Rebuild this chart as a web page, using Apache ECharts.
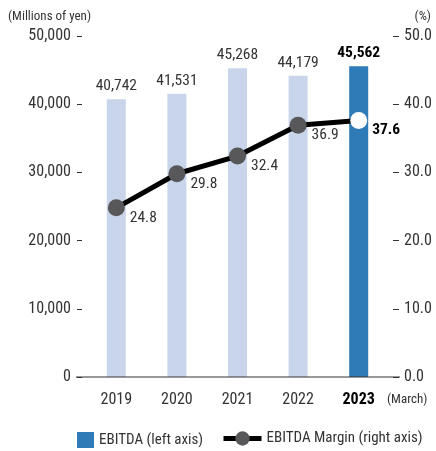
<!DOCTYPE html>
<html>
<head>
<meta charset="utf-8">
<script src="https://cdn.jsdelivr.net/npm/echarts@6/dist/echarts.min.js"></script>
<style>
  html, body { margin: 0; padding: 0; background: #fff; }
  #chart { width: 436px; height: 451px; }
</style>
</head>
<body>
<div id="chart"></div>
<script>
// Fiscal years (ending March)
const years = ['2019', '2020', '2021', '2022', '2023'];
// EBITDA, millions of yen (left axis)
const ebitda = [40742, 41531, 45268, 44179, 45562];
// EBITDA margin, % (right axis)
const margin = [24.8, 29.8, 32.4, 36.9, 37.6];
// Axis ranges
const leftAxis = { min: 0, max: 50000, interval: 10000 };
const rightAxis = { min: 0, max: 50, interval: 10 };

const FONT = "'Roboto Condensed', Roboto, sans-serif";
const FS = 16;
const TEXT = '#333';
const LIGHT_BAR = '#c9d5eb';
const MAIN_BAR = '#2e7bb8';
const last = years.length - 1;

const chart = echarts.init(document.getElementById('chart'));

const barData = ebitda.map((v, i) => ({
  value: v,
  itemStyle: { color: i === last ? MAIN_BAR : LIGHT_BAR },
  label: i === last ? { fontWeight: 'bold', color: '#000' } : {}
}));

const lineData = margin.map((v, i) => ({
  value: v,
  itemStyle: { color: i === last ? '#fff' : '#58585a' },
  label: i === last ? { fontWeight: 'bold', color: '#000' } : {}
}));

chart.setOption({
  animation: false,
  textStyle: { fontFamily: FONT },
  grid: { left: 86, right: 47, top: 36, bottom: 74 },
  legend: [
    {
      data: [{ name: 'EBITDA (left axis)', icon: 'rect' }],
      left: 77, top: 432, padding: 0,
      itemWidth: 17, itemHeight: 16,
      textStyle: { fontFamily: FONT, fontSize: 15, color: TEXT }
    },
    {
      data: [{ name: 'EBITDA Margin (right axis)', lineStyle: { width: 5, color: '#000' } }],
      left: 221, top: 431, padding: 0,
      itemWidth: 38, itemHeight: 18,
      lineStyle: { width: 5, color: '#000' },
      itemStyle: { color: '#58585a' },
      textStyle: { fontFamily: FONT, fontSize: 15, color: TEXT }
    }
  ],
  xAxis: {
    type: 'category',
    data: years,
    axisLine: { show: false },
    axisTick: { show: false },
    axisLabel: {
      interval: 0,
      margin: 15,
      fontSize: FS,
      color: TEXT,
      fontFamily: FONT,
      formatter: (v) => (v === years[last] ? '{b|' + v + '}' : v),
      rich: { b: { fontWeight: 'bold', color: '#000', fontSize: FS, fontFamily: FONT } }
    }
  },
  yAxis: [
    {
      type: 'value',
      min: leftAxis.min, max: leftAxis.max, interval: leftAxis.interval,
      offset: 4,
      splitLine: { show: false },
      axisLine: { show: false },
      axisTick: { show: true, length: 5, lineStyle: { color: '#333', width: 1 } },
      axisLabel: {
        margin: 11, fontSize: FS, color: TEXT, fontFamily: FONT,
        formatter: (v) => v.toLocaleString('en-US')
      }
    },
    {
      type: 'value',
      position: 'right',
      min: rightAxis.min, max: rightAxis.max, interval: rightAxis.interval,
      offset: 4,
      splitLine: { show: false },
      axisLine: { show: false },
      axisTick: { show: true, length: 6, lineStyle: { color: '#333', width: 1 } },
      axisLabel: {
        margin: 11, fontSize: FS, color: TEXT, fontFamily: FONT,
        formatter: (v) => v.toFixed(1)
      }
    }
  ],
  series: [
    {
      name: 'EBITDA (left axis)',
      type: 'bar',
      yAxisIndex: 0,
      barWidth: 19,
      data: barData,
      itemStyle: { color: MAIN_BAR },
      label: {
        show: true, position: 'top', distance: 5,
        fontSize: 15.5, color: TEXT, fontFamily: FONT,
        formatter: (p) => p.value.toLocaleString('en-US')
      },
      z: 1
    },
    {
      name: 'EBITDA Margin (right axis)',
      type: 'line',
      yAxisIndex: 1,
      data: lineData,
      symbol: 'circle',
      symbolSize: 17,
      lineStyle: { color: '#000', width: 5 },
      itemStyle: { color: '#58585a' },
      label: {
        show: true, position: 'right', distance: 5, offset: [0, 10],
        fontSize: 15.5, color: TEXT, fontFamily: FONT,
        formatter: (p) => p.value.toFixed(1)
      },
      z: 3
    }
  ]
});

// Baseline across both axes, plus unit captions
const y0 = chart.convertToPixel({ yAxisIndex: 0 }, 0);
chart.setOption({
  graphic: [
    {
      type: 'line',
      shape: { x1: 76, y1: y0, x2: 400, y2: y0 },
      style: { stroke: '#333', lineWidth: 1 },
      z: 10
    },
    {
      type: 'text', left: 8, top: 10,
      style: { text: '(Millions of yen)', fontSize: 13, fill: TEXT, fontFamily: FONT }
    },
    {
      type: 'text', right: 5, top: 10,
      style: { text: '(%)', fontSize: 13, fill: TEXT, fontFamily: FONT }
    },
    {
      type: 'text', left: 387, top: y0 + 16,
      style: { text: '(March)', fontSize: 13, fill: TEXT, fontFamily: FONT }
    }
  ]
});
</script>
</body>
</html>
